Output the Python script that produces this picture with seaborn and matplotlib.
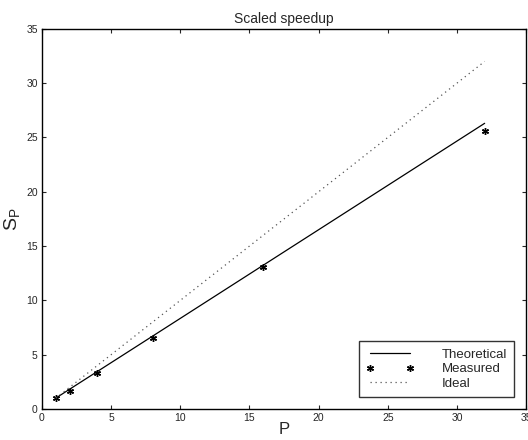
import matplotlib
matplotlib.use("Agg")
import matplotlib.pyplot as plt
import pandas as pd
import seaborn as sns

# data
procs = [1, 2, 4, 8, 16, 32]
theoretical = [1.0, 1.82, 3.45, 6.71, 13.24, 26.3]
measured = [1.0, 1.7, 3.3, 6.5, 13.05, 25.6]
ideal = [1, 2, 4, 8, 16, 32]

df = pd.DataFrame({"P": procs, "Theoretical": theoretical,
                   "Measured": measured, "Ideal": ideal})

sns.set_style("ticks")
plt.rcParams["font.family"] = ["Liberation Sans", "DejaVu Sans"]
plt.rcParams["mathtext.default"] = "regular"
plt.rcParams["xtick.direction"] = "in"
plt.rcParams["ytick.direction"] = "in"

fig = plt.figure(figsize=(5.28, 4.4), dpi=100)
ax = fig.add_axes([0.0795, 0.0705, 0.917, 0.864])

sns.lineplot(data=df, x="P", y="Theoretical", color="black", linewidth=0.9,
             ax=ax, legend=False)
sns.lineplot(data=df, x="P", y="Measured", color="black", linestyle="",
             marker=(6, 2, 0), markersize=5, markeredgewidth=1.0,
             markeredgecolor="black", ax=ax, legend=False)
sns.lineplot(data=df, x="P", y="Ideal", color="#555555", linewidth=0.9,
             linestyle=(0, (1, 3)), ax=ax, legend=False)

ax.set_xlim(0, 35)
ax.set_ylim(0, 35)
ax.set_xticks(range(0, 36, 5))
ax.set_yticks(range(0, 36, 5))
ax.tick_params(labelsize=7.5, length=3, width=0.8, top=True, right=True, pad=3)
for s in ax.spines.values():
    s.set_linewidth(1.0)
    s.set_color("black")

ax.set_title("Scaled speedup", fontsize=10, pad=4)
ax.set_xlabel("P", fontsize=12, labelpad=-1)
ax.set_ylabel("$S_P$", fontsize=14, labelpad=3)

leg = ax.legend(ax.get_lines(), ["Theoretical", "Measured", "Ideal"],
                loc="lower right", numpoints=2, fontsize=9.5, fancybox=False,
                frameon=True, handlelength=3.6, borderaxespad=0.9,
                labelspacing=0.18, handletextpad=2.1, borderpad=0.55)
leg.get_frame().set_edgecolor("black")
leg.get_frame().set_linewidth(1.0)

fig.savefig("out.png", dpi=100)
plt.close(fig)
